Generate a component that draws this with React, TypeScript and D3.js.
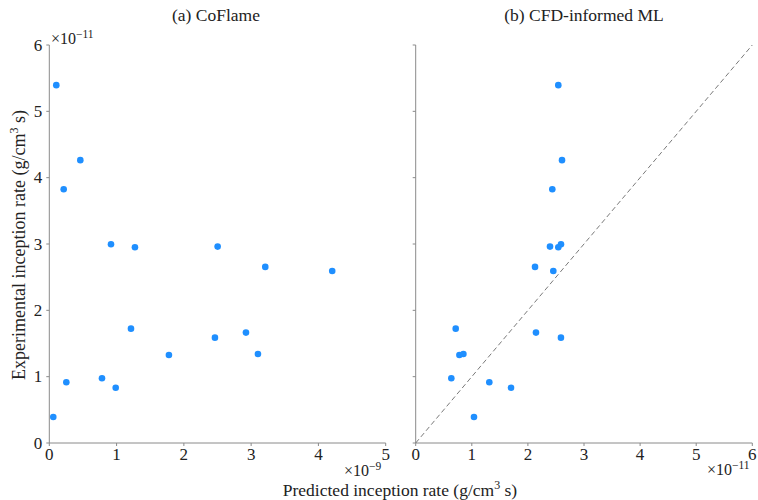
import React from "react";
import * as d3 from "d3";

const yExperimental = [5.395, 4.264, 3.826, 2.997, 2.952, 2.961, 2.655, 2.594, 1.724, 1.664, 1.588, 1.327, 1.342, 0.976, 0.915, 0.834, 0.392];
const xCoFlame = [0.104, 0.461, 0.214, 0.917, 1.273, 2.502, 3.21, 4.205, 1.214, 2.923, 2.462, 1.778, 3.101, 0.783, 0.253, 0.987, 0.059];
const xML = [2.542, 2.608, 2.435, 2.59, 2.542, 2.394, 2.127, 2.453, 0.713, 2.144, 2.589, 0.779, 0.85, 0.635, 1.312, 1.699, 1.039];
const leftXTicks = [0, 1, 2, 3, 4, 5];
const rightXTicks = [0, 1, 2, 3, 4, 5, 6];
const yTicks = [0, 1, 2, 3, 4, 5, 6];

const W = 758;
const H = 500;
const FONT = "Liberation Serif, Times New Roman, DejaVu Serif, serif";
const AXIS = "#8a8a8a";
const DOT = "#1f8fff";
const ts = { fontFamily: FONT };

export default function App() {
  const y = d3.scaleLinear().domain([0, 6]).range([443, 45]);
  const xL = d3.scaleLinear().domain([0, 5]).range([49.3, 385.7]);
  const xR = d3.scaleLinear().domain([0, 6]).range([415.7, 752.3]);
  const tick = 3;

  const panel = (x: d3.ScaleLinear<number, number>, xs: number[], xt: number[], showYLabels: boolean) => {
    const [x0, x1] = x.range();
    return (
      <g>
        <line x1={x0} x2={x1} y1={y(0)} y2={y(0)} stroke={AXIS} strokeWidth={1} />
        <line x1={x0} x2={x0} y1={y(0)} y2={y(6)} stroke={AXIS} strokeWidth={1} />
        {xt.map((t) => (
          <g key={"xt" + t}>
            <line x1={x(t)} x2={x(t)} y1={y(0)} y2={y(0) + tick} stroke={AXIS} />
            <text x={x(t)} y={y(0) + 17} textAnchor="middle" fontSize={17} style={ts} fill="#222">{t}</text>
          </g>
        ))}
        {yTicks.map((t) => (
          <g key={"yt" + t}>
            <line x1={x0 - tick} x2={x0} y1={y(t)} y2={y(t)} stroke={AXIS} />
            {showYLabels && (
              <text x={x0 - 7} y={y(t) + 5.5} textAnchor="end" fontSize={17} style={ts} fill="#222">{t}</text>
            )}
          </g>
        ))}
        {xs.map((v, i) => (
          <circle key={i} cx={x(v)} cy={y(yExperimental[i])} r={3.3} fill={DOT} />
        ))}
      </g>
    );
  };

  return (
    <svg width={W} height={H} style={{ position: "absolute", left: 0, top: 0 }}>
      <rect width={W} height={H} fill="#fff" />
      <text x={216} y={21} textAnchor="middle" fontSize={17.5} style={ts} fill="#222">(a) CoFlame</text>
      <text x={584} y={21} textAnchor="middle" fontSize={17.5} style={ts} fill="#222">(b) CFD-informed ML</text>
      {panel(xL, xCoFlame, leftXTicks, true)}
      {panel(xR, xML, rightXTicks, false)}
      <line x1={xR(0)} y1={y(0)} x2={xR(6)} y2={y(6)} stroke="#7a7a7a" strokeWidth={1} strokeDasharray="5,3" />
      <text x={51} y={44} fontSize={16} style={ts} fill="#222">
        ×10<tspan dy={-6} fontSize={11.5}>−11</tspan>
      </text>
      <text x={344} y={476} fontSize={16} style={ts} fill="#222">
        ×10<tspan dy={-6} fontSize={11.5}>−9</tspan>
      </text>
      <text x={707} y={475} fontSize={16} style={ts} fill="#222">
        ×10<tspan dy={-6} fontSize={11.5}>−11</tspan>
      </text>
      <text x={400} y={496} textAnchor="middle" fontSize={17.5} style={ts} fill="#222">
        Predicted inception rate (g/cm<tspan dy={-7} fontSize={12}>3</tspan><tspan dy={7}> s)</tspan>
      </text>
      <text transform={`translate(25,245) rotate(-90)`} textAnchor="middle" fontSize={18} style={ts} fill="#222">
        Experimental inception rate (g/cm<tspan dy={-7} fontSize={12}>3</tspan><tspan dy={7}> s)</tspan>
      </text>
    </svg>
  );
}
